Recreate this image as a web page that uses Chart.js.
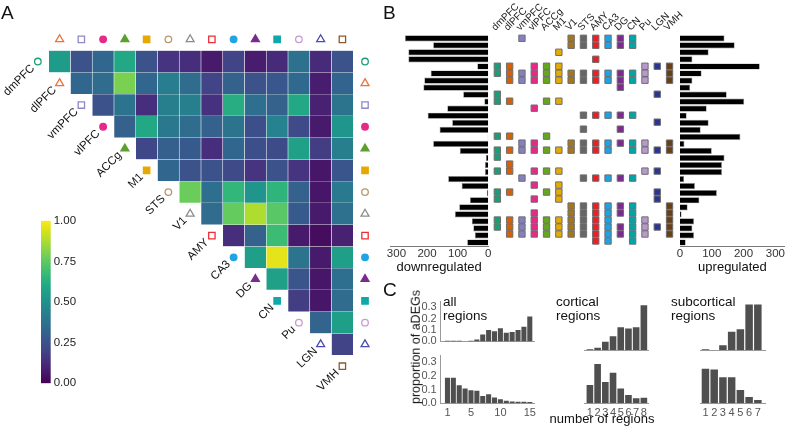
<!DOCTYPE html>
<html><head><meta charset="utf-8">
<script src="https://cdn.jsdelivr.net/npm/chart.js@4.4.1/dist/chart.umd.min.js"></script>
<style>
html,body{margin:0;padding:0;background:#fff;}
body{width:786px;height:432px;position:relative;overflow:hidden;font-family:"Liberation Sans",Arial,sans-serif;color:#111;}
canvas{position:absolute;}
.t{position:absolute;white-space:nowrap;line-height:1;}
</style></head><body>
<canvas id="cvA" width="390" height="432" style="left:0;top:0"></canvas>
<canvas id="cvCB" width="70" height="185" style="left:30px;top:210px"></canvas>
<canvas id="cvDown" width="115" height="250" style="left:380px;top:30px"></canvas>
<canvas id="cvMat" width="225" height="250" style="left:485px;top:0"></canvas>
<canvas id="cvUp" width="116" height="250" style="left:670px;top:30px"></canvas>
<canvas id="cvC1" width="128" height="62" style="left:412px;top:290px"></canvas>
<canvas id="cvC2" width="128" height="80" style="left:412px;top:345px"></canvas>
<canvas id="cvC3" width="105" height="62" style="left:550px;top:290px"></canvas>
<canvas id="cvC4" width="105" height="80" style="left:550px;top:345px"></canvas>
<canvas id="cvC5" width="110" height="62" style="left:665px;top:290px"></canvas>
<canvas id="cvC6" width="110" height="80" style="left:665px;top:345px"></canvas>

<div class="t" style="left:1px;top:3px;font-size:19px">A</div>
<div class="t" style="left:383px;top:3px;font-size:19px">B</div>
<div class="t" style="left:383px;top:280px;font-size:19px">C</div>
<div class="t" style="left:443px;top:295px;font-size:13.5px;line-height:13.5px">all<br>regions</div>
<div class="t" style="left:556px;top:295px;font-size:13.5px;line-height:13.5px">cortical<br>regions</div>
<div class="t" style="left:671px;top:295px;font-size:13.5px;line-height:13.5px">subcortical<br>regions</div>
<div class="t" style="left:416px;top:347px;font-size:12.5px;transform:translate(-50%,-50%) rotate(-90deg)">proportion of aDEGs</div>
<div class="t" style="left:602px;top:412px;font-size:13px;transform:translateX(-50%)">number of regions</div>

<script>
// ================= DATA =================
// Panel A: regions (heatmap order) and marker legend
const regionsA = ['dmPFC','dlPFC','vmPFC','vlPFC','ACCg','M1','STS','V1','AMY','CA3','DG','CN','Pu','LGN','VMH'];
const markerShapesA = ['circle','triangle','rect','circle','triangle','rect','circle','triangle','rect','circle','triangle','rect','circle','triangle','rect'];
const markerFilledA = [false,false,false,true,true,true,false,false,false,true,true,true,false,false,false];
const markerColorsA = ['#1b9e77','#e8743b','#8e88c8','#e7298a','#5aa02c','#e6a800','#b8976c','#8c8c8c','#ee2d35','#1ea5e6','#7b2b8e','#10a8a8','#c59bd3','#4b4db3','#8c5a2b'];

// Pairwise overlap (row region vs. each later region)
const overlap_dmPFC = [0.55,0.25,0.33,0.60,0.25,0.15,0.13,0.07,0.20,0.08,0.12,0.37,0.12,0.25];
const overlap_dlPFC = [0.33,0.35,0.80,0.33,0.42,0.35,0.20,0.31,0.25,0.27,0.34,0.08,0.32];
const overlap_vmPFC = [0.25,0.38,0.13,0.43,0.43,0.14,0.62,0.36,0.31,0.60,0.09,0.38];
const overlap_vlPFC = [0.31,0.60,0.40,0.35,0.31,0.38,0.24,0.44,0.22,0.07,0.52];
const overlap_ACCg  = [0.21,0.30,0.28,0.13,0.33,0.24,0.23,0.57,0.18,0.43];
const overlap_M1    = [0.33,0.25,0.25,0.22,0.15,0.25,0.15,0.06,0.26];
const overlap_STS   = [0.77,0.36,0.66,0.52,0.65,0.31,0.06,0.41];
const overlap_V1    = [0.35,0.76,0.88,0.74,0.28,0.07,0.37];
const overlap_AMY   = [0.13,0.31,0.68,0.07,0.03,0.09];
const overlap_CA3   = [0.56,0.96,0.38,0.07,0.56];
const overlap_DG    = [0.57,0.26,0.06,0.36];
const overlap_CN    = [0.18,0.06,0.35];
const overlap_Pu    = [0.32,0.56];
const overlap_LGN   = [0.20];
const colorbarTicks = [0,0.25,0.5,0.75,1];

// Panel B: regions (column order), colours, gene rows
const regionsB = ['dmPFC','dlPFC','vmPFC','vlPFC','ACCg','M1','V1','STS','AMY','CA3','DG','CN','Pu','LGN','VMH'];
const colorsB = ['#1b9e77','#d95f02','#8580c4','#e7298a','#66a61e','#e6ab02','#a6761d','#666666','#ee1c25','#1ca3e6','#7b2b8e','#00a5a5','#b998cc','#2b3591','#6b3f14'];
const geneRegionSets = [
  ['vmPFC','V1','STS','AMY','CA3','DG','CN'],
  ['V1','STS','AMY','CA3','DG','CN'],
  ['M1'],
  ['AMY'],
  ['dmPFC','dlPFC','vlPFC','ACCg','M1','Pu','LGN','VMH'],
  ['dmPFC','dlPFC','vmPFC','vlPFC','ACCg','M1','V1','STS','AMY','CA3','DG','CN','Pu','VMH'],
  ['dlPFC','vmPFC','vlPFC','ACCg','M1','V1','STS','AMY','CA3','DG','CN','Pu','VMH'],
  ['DG'],
  ['dmPFC','LGN'],
  ['dmPFC','dlPFC','ACCg','M1'],
  ['vlPFC'],
  ['STS','AMY','CA3','DG','CN'],
  ['LGN'],
  ['STS','DG'],
  ['dmPFC','dlPFC','ACCg'],
  ['vmPFC','vlPFC','V1','STS','AMY','CA3','DG','CN','Pu','VMH'],
  ['dmPFC','dlPFC','vmPFC','vlPFC','ACCg','M1','V1','STS','AMY','CA3','CN','Pu','LGN','VMH'],
  ['dmPFC'],
  ['dlPFC'],
  ['dmPFC','dlPFC','vlPFC','ACCg','M1','Pu','LGN'],
  ['vmPFC','STS','AMY','CA3','DG','CN'],
  ['vlPFC','M1'],
  ['dmPFC','dlPFC','ACCg','M1','LGN'],
  ['dmPFC','vlPFC','M1','LGN'],
  ['V1','STS','AMY','CA3','DG','CN','VMH'],
  ['vlPFC','V1','STS','AMY','CA3','DG','CN','VMH'],
  ['dmPFC','dlPFC','vmPFC','vlPFC','ACCg','M1','V1','STS','AMY','CA3','CN','Pu','VMH'],
  ['dmPFC','dlPFC','vmPFC','vlPFC','ACCg','M1','V1','STS','AMY','CA3','DG','CN','Pu','LGN','VMH'],
  ['dlPFC','vmPFC','vlPFC','ACCg','M1','V1','STS','AMY','CA3','DG','CN','Pu','VMH'],
  ['AMY','CA3','CN']
];
const downregulated = [272,180,261,261,36,188,209,212,82,13,134,198,118,159,2,180,93,8,11,11,131,87,5,60,95,109,54,49,44,69];
const upregulated   = [140,172,90,39,251,68,39,32,147,202,84,21,90,65,190,14,100,140,132,132,13,47,116,61,24,5,44,39,44,18];
const countTicksB = [0,100,200,300];

// Panel C: proportion of aDEGs vs number of regions
const nRegionsAll = [1,2,3,4,5,6,7,8,9,10,11,12,13,14,15];
const nRegionsCortical = [1,2,3,4,5,6,7,8];
const nRegionsSubcortical = [1,2,3,4,5,6,7];
const allUp   = [0.006,0.006,0.006,0,0.006,0.017,0.06,0.10,0.09,0.115,0.077,0.083,0.10,0.13,0.22];
const allDown = [0.188,0.188,0.132,0.108,0.096,0.092,0.053,0.067,0.043,0.029,0.019,0.014,0.012,0.012,0.010];
const corticalUp   = [0.006,0.017,0.06,0.10,0.165,0.155,0.165,0.325];
const corticalDown = [0.132,0.285,0.154,0.222,0.108,0.06,0.036,0.04];
const subcorticalUp   = [0.006,0,0.034,0.133,0.15,0.33,0.33];
const subcorticalDown = [0.25,0.245,0.188,0.188,0.096,0.046,0.024];
const propTicks = [0,0.1,0.2,0.3];
const allTicks = [1,5,10,15];

// ================= HELPERS =================
const FONT = '"Liberation Sans", Arial, sans-serif';
Chart.defaults.font.family = FONT;
Chart.defaults.color = '#222';
const VIR = ['#440154','#471365','#482475','#463480','#414487','#3b528b','#355f8d','#2f6c8e','#2a788e','#25848e','#21918c','#1e9c89','#22a884','#2fb47c','#44bf70','#5ec962','#7ad151','#9bd93c','#bddf26','#dfe318','#fde725'];
function hex2rgb(h){return [parseInt(h.slice(1,3),16),parseInt(h.slice(3,5),16),parseInt(h.slice(5,7),16)];}
function viridis(v){
  v=Math.max(0,Math.min(1,v)); const f=v*(VIR.length-1); const i=Math.min(VIR.length-2,Math.floor(f)); const t=f-i;
  const a=hex2rgb(VIR[i]), b=hex2rgb(VIR[i+1]);
  return 'rgb('+a.map((c,k)=>Math.round(c+(b[k]-c)*t)).join(',')+')';
}
function base(padding){
  return {responsive:false, animation:false, events:[], layout:{padding},
    plugins:{legend:{display:false}, tooltip:{enabled:false}}};
}
function setTicks(vals){ return s=>{ s.ticks = vals.map(v=>({value:v})); }; }

// ================= PANEL A: heatmap =================
const overlapRows = [overlap_dmPFC,overlap_dlPFC,overlap_vmPFC,overlap_vlPFC,overlap_ACCg,overlap_M1,overlap_STS,overlap_V1,overlap_AMY,overlap_CA3,overlap_DG,overlap_CN,overlap_Pu,overlap_LGN];
const colIdx = regionsA.slice(1).map((_,j)=>j);
const hmSets = overlapRows.map((row,i)=>({
  type:'bar',
  data: row.map((v,k)=>({x:i+k, y:[i,i+1]})),
  backgroundColor: row.map(v=>viridis(v)),
  borderColor:'rgba(255,255,255,0.16)', borderWidth:0.6,
  grouped:false, barPercentage:1, categoryPercentage:1, order:2
}));
// marker points: right column (rows), top row (columns), diagonal labels
const mk = [];
overlapRows.forEach((_,i)=>mk.push({x:14.04, y:i+0.5, r:i}));
for (let j=colIdx.length-1;j>=0;j--) mk.push({x:j, y:-0.52, r:j+1});
regionsA.forEach((_,i)=>mk.push({x:i-1, y:i+0.5, r:i}));
const radiusFor = s => s==='circle'?3.3:(s==='triangle'?4.6:4.5);
hmSets.push({
  type:'scatter', clip:false, order:0,
  data: mk.map(p=>({x:p.x,y:p.y})),
  pointStyle: mk.map(p=>markerShapesA[p.r]),
  pointRadius: mk.map(p=>radiusFor(markerShapesA[p.r])),
  pointBackgroundColor: mk.map(p=>markerFilledA[p.r]?markerColorsA[p.r]:'#ffffff'),
  pointBorderColor: mk.map(p=>markerColorsA[p.r]),
  pointBorderWidth:1.3
});
const diagLabels = {
  id:'diagLabels',
  afterDatasetsDraw(chart){
    const {ctx, scales:{x,y}} = chart;
    ctx.save();
    ctx.font = '11.5px '+FONT; ctx.fillStyle='#111'; ctx.textAlign='right'; ctx.textBaseline='middle';
    regionsA.forEach((name,i)=>{
      const px=x.getPixelForValue(i-1), py=y.getPixelForValue(i+0.5);
      ctx.save(); ctx.translate(px-5, py+5); ctx.rotate(-Math.PI/4); ctx.fillText(name,0,0); ctx.restore();
    });
    ctx.restore();
  }
};
// scale range widened so that the legend markers sit inside the plot area
new Chart(document.getElementById('cvA'), {
  type:'bar',
  data:{datasets:hmSets},
  options:Object.assign(base({left:24.8, top:28.9, right:12.8, bottom:50.6}), {
    scales:{
      x:{type:'linear', min:-1.6, max:14.6, display:false, offset:false, afterBuildTicks:setTicks(colIdx)},
      y:{type:'linear', min:-1, max:15.2, reverse:true, display:false}
    }
  }),
  plugins:[diagLabels]
});

// colour bar
new Chart(document.getElementById('cvCB'), {
  type:'bar',
  data:{labels:[''], datasets:[{data:[[0,1]], barPercentage:1, categoryPercentage:1, borderWidth:0,
    backgroundColor:(c)=>{const ch=c.chart, a=ch.chartArea; if(!a) return VIR[10];
      const g=ch.ctx.createLinearGradient(0,a.bottom,0,a.top); VIR.forEach((col,k)=>g.addColorStop(k/(VIR.length-1),col)); return g;}}]},
  options:Object.assign(base({left:11, top:10.7, bottom:11.7, right:0}), {
    scales:{
      x:{display:false},
      y:{position:'right', min:0, max:1, grid:{display:false, drawTicks:false}, border:{display:false},
         afterBuildTicks:setTicks(colorbarTicks),
         ticks:{callback:v=>v.toFixed(2), font:{size:11.5}, color:'#222', padding:3, autoSkip:false},
         afterFit:s=>{s.width=49.3;}}
    }
  })
});

// ================= PANEL B =================
const rowLabels = geneRegionSets.map((_,i)=>'gene set '+(i+1));
function countAxis(reverse, max, title){
  return {type:'linear', reverse, min:0, max, grid:{display:false, drawTicks:false},
    border:{display:true, color:'#7a7a7a', width:1},
    afterBuildTicks:setTicks(countTicksB),
    ticks:{font:{size:11.5}, color:'#333', padding:1, maxRotation:0, autoSkip:false},
    title:{display:true, text:title, font:{size:13}, color:'#111', padding:{top:0,bottom:5}},
    afterFit:s=>{s.height=34;}};
}
new Chart(document.getElementById('cvDown'), {
  type:'bar',
  data:{labels:rowLabels, datasets:[{data:downregulated, backgroundColor:'#000', borderColor:'#8a8a8a', borderWidth:0.7, barPercentage:0.88, categoryPercentage:1}]},
  options:Object.assign(base({left:10, right:6.7, top:4.8, bottom:0}), {
    indexAxis:'y',
    scales:{ y:{display:false}, x:countAxis(true, 321, 'downregulated') }
  })
});
new Chart(document.getElementById('cvUp'), {
  type:'bar',
  data:{labels:rowLabels, datasets:[{data:upregulated, backgroundColor:'#000', borderColor:'#8a8a8a', borderWidth:0.7, barPercentage:0.88, categoryPercentage:1}]},
  options:Object.assign(base({left:10, right:0.6, top:4.8, bottom:0}), {
    indexAxis:'y',
    scales:{ y:{display:false}, x:countAxis(false, 330, 'upregulated') }
  })
});
const colLabelsB = {
  id:'colLabelsB',
  afterDatasetsDraw(chart){
    const {ctx, scales:{x}} = chart;
    ctx.save();
    ctx.font='10px '+FONT; ctx.fillStyle='#222'; ctx.textAlign='left'; ctx.textBaseline='alphabetic';
    regionsB.forEach((name,j)=>{
      const px=x.getPixelForValue(j);
      ctx.save(); ctx.translate(px-2, 31); ctx.rotate(-Math.PI/4); ctx.fillText(name,0,0); ctx.restore();
    });
    ctx.restore();
  }
};
new Chart(document.getElementById('cvMat'), {
  type:'scatter',
  data:{datasets: regionsB.map((name,j)=>({
    data: geneRegionSets.map((set,i)=> set.includes(name)?{x:j,y:i}:null).filter(p=>p),
    pointStyle:'rect', pointRadius:4.5,
    pointBackgroundColor:colorsB[j], pointBorderColor:'#6e6e6e', pointBorderWidth:1, clip:false
  }))},
  options:Object.assign(base({left:6.2, right:34.3, top:34.8, bottom:4}), {
    scales:{
      x:{type:'linear', min:-0.5, max:14.5, display:false},
      y:{type:'linear', min:-0.5, max:29.5, reverse:true, display:false}
    }
  }),
  plugins:[colLabelsB]
});

// ================= PANEL C =================
function hist(id, cats, vals, opt){
  const xAxis = {type:'linear', min:opt.min, max:opt.max, offset:false,
    grid:{display:false, drawTicks:false}, border:{display:true, color:'#9a9a9a', width:1},
    afterBuildTicks:setTicks(opt.ticks),
    ticks:{display:opt.showX, font:{size:11}, color:'#555', padding:3, maxRotation:0, autoSkip:false},
    afterFit:s=>{s.height=opt.xh;}};
  const yAxis = {type:'linear', min:0, max:0.35, display:opt.showY,
    grid:{display:false, drawTicks:false}, border:{display:true, color:'#9a9a9a', width:1},
    afterBuildTicks:setTicks(propTicks),
    ticks:{callback:v=>v.toFixed(1), font:{size:11}, color:'#555', padding:4, autoSkip:false},
    afterFit:s=>{s.width=28.7;}};
  new Chart(document.getElementById(id), {
    type:'bar',
    data:{datasets:[{data:cats.map((c,i)=>({x:c, y:vals[i]})), backgroundColor:'#4f4f4f', borderWidth:0, barPercentage:0.86, categoryPercentage:1}]},
    options:Object.assign(base(opt.pad), {scales:{x:xAxis, y:yAxis}})
  });
}
hist('cvC1', nRegionsAll, allUp,   {min:-0.15, max:15.8, ticks:allTicks, showX:false, showY:true, xh:0, pad:{left:0,right:5.5,top:11.7,bottom:2}});
hist('cvC2', nRegionsAll, allDown, {min:-0.15, max:15.8, ticks:allTicks, showX:true, showY:true, xh:21.7, pad:{left:0,right:5.5,top:10,bottom:0}});
hist('cvC3', nRegionsCortical, corticalUp,   {min:0.26, max:8.6, ticks:nRegionsCortical, showX:false, showY:false, xh:0, pad:{left:5.5,right:6.5,top:11.7,bottom:2}});
hist('cvC4', nRegionsCortical, corticalDown, {min:0.26, max:8.6, ticks:nRegionsCortical, showX:true, showY:false, xh:21.7, pad:{left:5.5,right:6.5,top:10,bottom:0}});
hist('cvC5', nRegionsSubcortical, subcorticalUp,   {min:0.42, max:7.82, ticks:nRegionsSubcortical, showX:false, showY:false, xh:0, pad:{left:6.7,right:10,top:11.7,bottom:2}});
hist('cvC6', nRegionsSubcortical, subcorticalDown, {min:0.42, max:7.82, ticks:nRegionsSubcortical, showX:true, showY:false, xh:21.7, pad:{left:6.7,right:10,top:10,bottom:0}});
</script>
</body></html>
